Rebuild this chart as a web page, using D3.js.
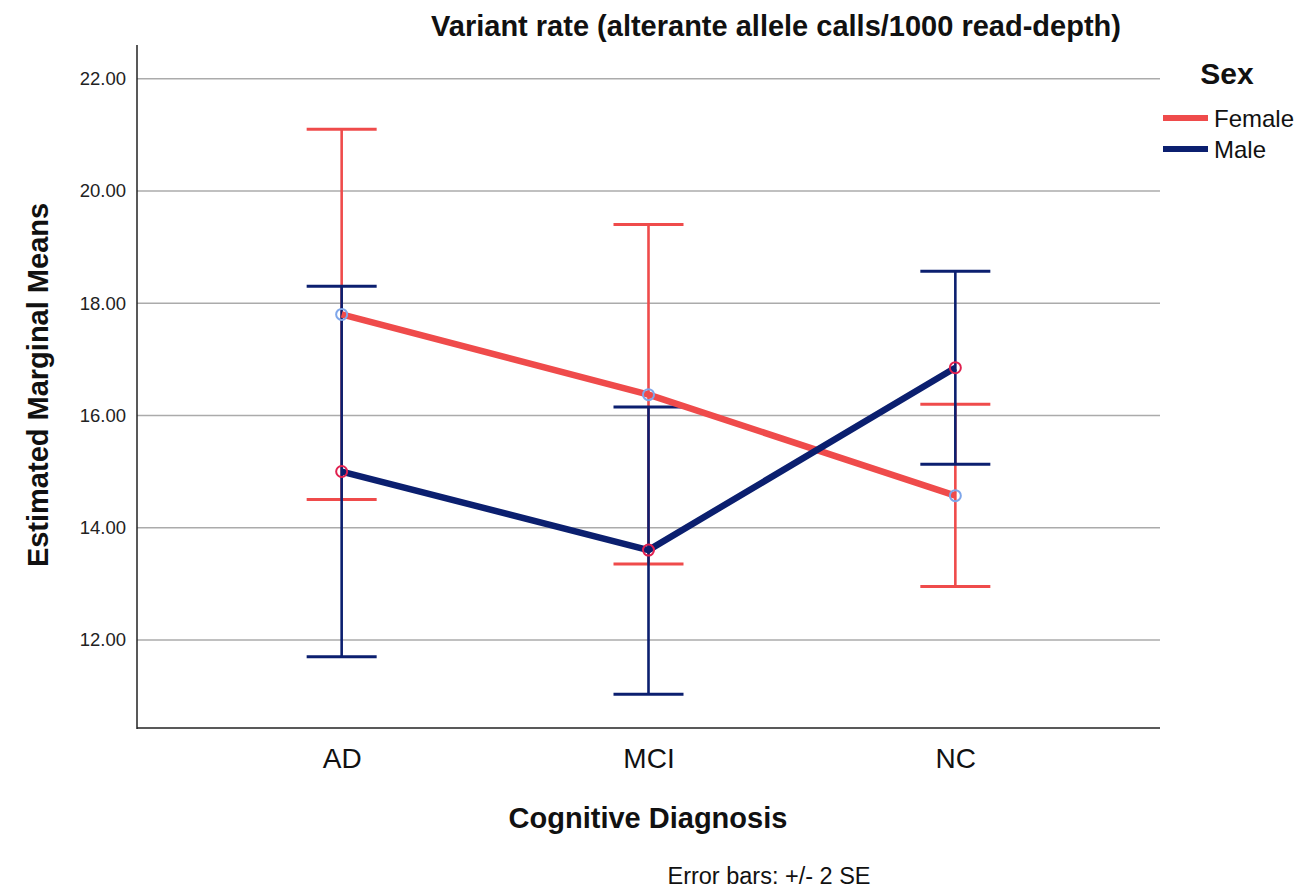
<!DOCTYPE html>
<html>
<head>
<meta charset="utf-8">
<script src="https://cdn.jsdelivr.net/npm/d3@7"></script>
<style>
  html, body { margin: 0; padding: 0; background: #fff; }
  svg { display: block; font-family: "Liberation Sans", Arial, sans-serif; }
</style>
</head>
<body>
<svg id="chart" width="1307" height="894"></svg>
<script>
// Estimated marginal means by cognitive diagnosis and sex (error bars: +/- 2 SE)
const categories = ["AD", "MCI", "NC"];
const seriesNames = ["Female", "Male"];
const femaleMeans = [17.80, 16.37, 14.57];
const femaleLower = [14.50, 13.35, 12.95];
const femaleUpper = [21.10, 19.40, 16.20];
const maleMeans = [15.00, 13.60, 16.85];
const maleLower = [11.70, 11.03, 15.13];
const maleUpper = [18.30, 16.15, 18.57];
const yTicks = [12, 14, 16, 18, 20, 22];

const series = [
  { name: seriesNames[0], means: femaleMeans, lower: femaleLower, upper: femaleUpper,
    color: "#ef4b4b", marker: "#7ea6ea" },
  { name: seriesNames[1], means: maleMeans, lower: maleLower, upper: maleUpper,
    color: "#0b1f6f", marker: "#e0204f" }
];

const svg = d3.select("#chart");
const plotLeft = 137, plotRight = 1160, plotTop = 45, plotBottom = 728;
const font = "'Liberation Sans', Arial, sans-serif";

const x = d3.scalePoint().domain(categories).range([plotLeft, plotRight]).padding(0.667);
const y = d3.scaleLinear().domain([10.43, 22.6]).range([plotBottom, plotTop]);

// gridlines
svg.append("g").selectAll("line").data(yTicks).join("line")
  .attr("x1", plotLeft).attr("x2", plotRight)
  .attr("y1", d => y(d)).attr("y2", d => y(d))
  .attr("stroke", "#ababab").attr("stroke-width", 1.5);

// y axis
const yAxis = d3.axisLeft(y).tickValues(yTicks).tickFormat(d3.format(".2f"))
  .tickSize(0).tickPadding(11);
const gy = svg.append("g").attr("transform", `translate(${plotLeft},0)`).call(yAxis);
gy.select(".domain").remove();
gy.selectAll("text").attr("font-size", 18.5).attr("fill", "#222").attr("font-family", font);

// x axis
const xAxis = d3.axisBottom(x).tickSize(0).tickPadding(20);
const gx = svg.append("g").attr("transform", `translate(0,${plotBottom})`).call(xAxis);
gx.select(".domain").remove();
gx.selectAll("text").attr("font-size", 28).attr("fill", "#111").attr("font-family", font);

// axis frame
svg.append("line").attr("x1", plotLeft).attr("x2", plotLeft).attr("y1", plotTop).attr("y2", plotBottom + 1)
  .attr("stroke", "#222").attr("stroke-width", 1.5);
svg.append("line").attr("x1", plotLeft).attr("x2", plotRight).attr("y1", plotBottom).attr("y2", plotBottom)
  .attr("stroke", "#222").attr("stroke-width", 1.5);

const capHalf = 35;

// error bars
series.forEach(s => {
  const g = svg.append("g");
  categories.forEach((c, i) => {
    const cx = x(c);
    g.append("line").attr("x1", cx).attr("x2", cx)
      .attr("y1", y(s.lower[i])).attr("y2", y(s.upper[i]))
      .attr("stroke", s.color).attr("stroke-width", 2.6);
    [s.lower[i], s.upper[i]].forEach(v => {
      g.append("line").attr("x1", cx - capHalf).attr("x2", cx + capHalf)
        .attr("y1", y(v)).attr("y2", y(v))
        .attr("stroke", s.color).attr("stroke-width", 3);
    });
  });
});

// mean lines
const line = d3.line().x((d, i) => x(categories[i])).y(d => y(d));
series.forEach(s => {
  svg.append("path").datum(s.means).attr("d", line)
    .attr("fill", "none").attr("stroke", s.color).attr("stroke-width", 6.5)
    .attr("stroke-linejoin", "round");
});

// point markers
series.forEach(s => {
  svg.append("g").selectAll("circle").data(s.means).join("circle")
    .attr("cx", (d, i) => x(categories[i])).attr("cy", d => y(d)).attr("r", 5.5)
    .attr("fill", "none").attr("stroke", s.marker).attr("stroke-width", 2);
});

// title and axis labels
svg.append("text").attr("x", 776).attr("y", 36).attr("text-anchor", "middle")
  .attr("font-size", 29).attr("font-weight", "bold").attr("fill", "#111")
  .text("Variant rate (alterante allele calls/1000 read-depth)");

svg.append("text").attr("transform", "translate(48,385) rotate(-90)")
  .attr("text-anchor", "middle").attr("font-size", 29).attr("font-weight", "bold")
  .attr("fill", "#111").text("Estimated Marginal Means");

svg.append("text").attr("x", 648).attr("y", 828).attr("text-anchor", "middle")
  .attr("font-size", 29).attr("font-weight", "bold").attr("fill", "#111")
  .text("Cognitive Diagnosis");

svg.append("text").attr("x", 769).attr("y", 884).attr("text-anchor", "middle")
  .attr("font-size", 23.5).attr("fill", "#111").text("Error bars: +/- 2 SE");

// legend
const legend = svg.append("g");
legend.append("text").attr("x", 1227).attr("y", 84).attr("text-anchor", "middle")
  .attr("font-size", 30).attr("font-weight", "bold").attr("fill", "#111").text("Sex");
series.forEach((s, i) => {
  const ly = 118 + i * 31;
  legend.append("line").attr("x1", 1163).attr("x2", 1208).attr("y1", ly).attr("y2", ly)
    .attr("stroke", s.color).attr("stroke-width", 6);
  legend.append("text").attr("x", 1214).attr("y", ly + 9).attr("font-size", 24)
    .attr("fill", "#111").text(s.name);
});
</script>
</body>
</html>
